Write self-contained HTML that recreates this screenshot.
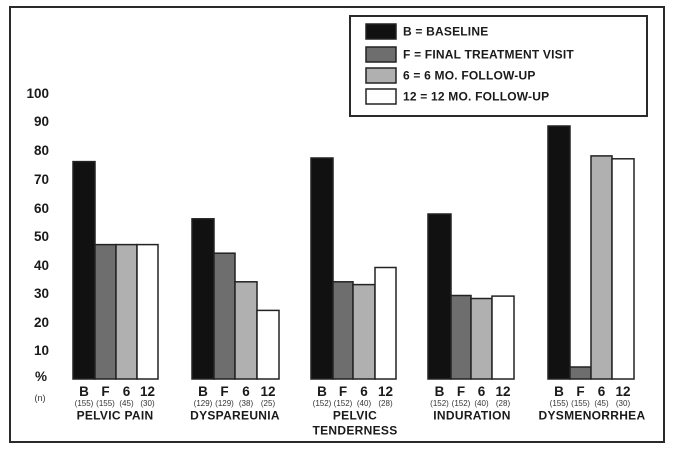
<!DOCTYPE html>
<html><head><meta charset="utf-8"><style>
html,body{margin:0;padding:0;background:#fff;}
svg{display:block;}
text{font-family:"Liberation Sans",Arial,sans-serif;font-weight:bold;fill:#1a1a1a;}
.y{font-size:13.5px;text-anchor:end;}
.t{font-size:13.5px;text-anchor:middle;}
.n{font-size:8px;font-weight:normal;text-anchor:middle;fill:#333;}
.c{font-size:12px;text-anchor:middle;letter-spacing:0.3px;}
.l{font-size:12px;letter-spacing:0.2px;}
</style></head><body>
<svg width="681" height="454" viewBox="0 0 681 454" xmlns="http://www.w3.org/2000/svg">
<rect x="0" y="0" width="681" height="454" fill="#fff"/>
<rect x="10" y="7" width="654" height="435" fill="none" stroke="#2a2a2a" stroke-width="2"/>
<!-- legend -->
<rect x="350" y="16" width="297" height="100" fill="#fff" stroke="#2a2a2a" stroke-width="2"/>
<rect x="366" y="24" width="30" height="15" fill="#111" stroke="#222" stroke-width="1.5"/>
<rect x="366" y="47" width="30" height="15" fill="#6e6e6e" stroke="#222" stroke-width="1.5"/>
<rect x="366" y="68" width="30" height="15" fill="#b0b0b0" stroke="#222" stroke-width="1.5"/>
<rect x="366" y="89" width="30" height="15" fill="#fff" stroke="#222" stroke-width="1.5"/>
<text class="l" x="403" y="35.5">B = BASELINE</text>
<text class="l" x="403" y="58.5">F = FINAL TREATMENT VISIT</text>
<text class="l" x="403" y="79.5">6 = 6 MO. FOLLOW-UP</text>
<text class="l" x="403" y="100.5">12 = 12 MO. FOLLOW-UP</text>
<!-- y labels -->
<text class="y" x="49" y="98">100</text>
<text class="y" x="49" y="126">90</text>
<text class="y" x="49" y="155">80</text>
<text class="y" x="49" y="184">70</text>
<text class="y" x="49" y="213">60</text>
<text class="y" x="49" y="241">50</text>
<text class="y" x="49" y="270">40</text>
<text class="y" x="49" y="298">30</text>
<text class="y" x="49" y="327">20</text>
<text class="y" x="49" y="355">10</text>
<text class="y" x="47" y="381">%</text>
<text class="n" x="40" y="401" style="font-size:9px">(n)</text>
<g stroke="#222" stroke-width="1.5">
<!-- pelvic pain -->
<rect x="73" y="161.6" width="22" height="217.4" fill="#111"/>
<rect x="95" y="244.6" width="21" height="134.4" fill="#6e6e6e"/>
<rect x="116" y="244.6" width="21" height="134.4" fill="#b0b0b0"/>
<rect x="137" y="244.6" width="21" height="134.4" fill="#fff"/>
<!-- dyspareunia -->
<rect x="192" y="218.8" width="22" height="160.2" fill="#111"/>
<rect x="214" y="253.2" width="21" height="125.8" fill="#6e6e6e"/>
<rect x="235" y="281.8" width="22" height="97.2" fill="#b0b0b0"/>
<rect x="257" y="310.4" width="22" height="68.6" fill="#fff"/>
<!-- pelvic tenderness -->
<rect x="311" y="158" width="22" height="221" fill="#111"/>
<rect x="333" y="281.8" width="20" height="97.2" fill="#6e6e6e"/>
<rect x="353" y="284.6" width="22" height="94.4" fill="#b0b0b0"/>
<rect x="375" y="267.5" width="21" height="111.5" fill="#fff"/>
<!-- induration -->
<rect x="428" y="214" width="23" height="165" fill="#111"/>
<rect x="451" y="295.5" width="20" height="83.5" fill="#6e6e6e"/>
<rect x="471" y="298.5" width="21" height="80.5" fill="#b0b0b0"/>
<rect x="492" y="296.1" width="22" height="82.9" fill="#fff"/>
<!-- dysmenorrhea -->
<rect x="548" y="126" width="22" height="253" fill="#111"/>
<rect x="570" y="367" width="21" height="12" fill="#6e6e6e"/>
<rect x="591" y="155.9" width="21" height="223.1" fill="#b0b0b0"/>
<rect x="612" y="158.8" width="22" height="220.2" fill="#fff"/>
</g>
<!-- tick letters -->
<g>
<text class="t" x="84" y="396">B</text><text class="t" x="105.5" y="396">F</text><text class="t" x="126.5" y="396">6</text><text class="t" x="147.5" y="396">12</text>
<text class="t" x="203" y="396">B</text><text class="t" x="224.5" y="396">F</text><text class="t" x="246" y="396">6</text><text class="t" x="268" y="396">12</text>
<text class="t" x="322" y="396">B</text><text class="t" x="343" y="396">F</text><text class="t" x="364" y="396">6</text><text class="t" x="385.5" y="396">12</text>
<text class="t" x="439.5" y="396">B</text><text class="t" x="461" y="396">F</text><text class="t" x="481.5" y="396">6</text><text class="t" x="503" y="396">12</text>
<text class="t" x="559" y="396">B</text><text class="t" x="580.5" y="396">F</text><text class="t" x="601.5" y="396">6</text><text class="t" x="623" y="396">12</text>
</g>
<g>
<text class="n" x="84" y="406">(155)</text><text class="n" x="105.5" y="406">(155)</text><text class="n" x="126.5" y="406">(45)</text><text class="n" x="147.5" y="406">(30)</text>
<text class="n" x="203" y="406">(129)</text><text class="n" x="224.5" y="406">(129)</text><text class="n" x="246" y="406">(38)</text><text class="n" x="268" y="406">(25)</text>
<text class="n" x="322" y="406">(152)</text><text class="n" x="343" y="406">(152)</text><text class="n" x="364" y="406">(40)</text><text class="n" x="385.5" y="406">(28)</text>
<text class="n" x="439.5" y="406">(152)</text><text class="n" x="461" y="406">(152)</text><text class="n" x="481.5" y="406">(40)</text><text class="n" x="503" y="406">(28)</text>
<text class="n" x="559" y="406">(155)</text><text class="n" x="580.5" y="406">(155)</text><text class="n" x="601.5" y="406">(45)</text><text class="n" x="623" y="406">(30)</text>
</g>
<text class="c" x="115" y="419.5">PELVIC PAIN</text>
<text class="c" x="235" y="419.5">DYSPAREUNIA</text>
<text class="c" x="355" y="419.5">PELVIC</text>
<text class="c" x="355" y="434.5">TENDERNESS</text>
<text class="c" x="472" y="419.5">INDURATION</text>
<text class="c" x="592" y="419.5">DYSMENORRHEA</text>
</svg>
</body></html>
